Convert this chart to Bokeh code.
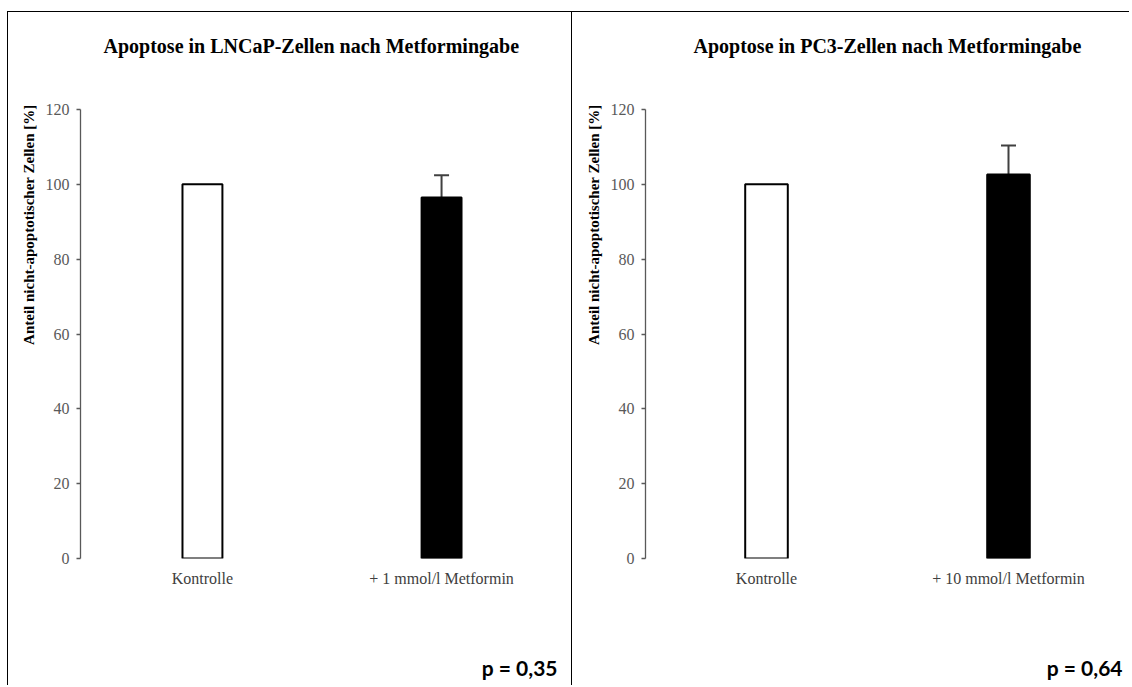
from bokeh.plotting import figure
from bokeh.models import (FixedTicker, Whisker, TeeHead, ColumnDataSource, Title)
from bokeh.layouts import row
from bokeh.embed import file_html
from bokeh.resources import INLINE

# ---------------- data ----------------
titles = ["Apoptose in LNCaP-Zellen nach Metformingabe",
          "Apoptose in PC3-Zellen nach Metformingabe"]
y_label = "Anteil nicht-apoptotischer Zellen [%]"

cats_lncap = ["Kontrolle", "+ 1 mmol/l Metformin"]
vals_lncap = [100.0, 96.5]
err_lncap = [0.0, 5.9]

cats_pc3 = ["Kontrolle", "+ 10 mmol/l Metformin"]
vals_pc3 = [100.0, 102.6]
err_pc3 = [0.0, 7.8]

bar_colors = ["white", "black"]
p_values = ["p = 0,35", "p = 0,64"]
y_ticks = [0, 20, 40, 60, 80, 100, 120]
y_max = 120

SERIF = "Liberation Serif"


def spacer(gap):
    # blank title used only to reserve vertical space in a side panel
    return Title(text=" ", text_font_size="1px", standoff=gap)


def make_panel(cats, vals, errs, title, pval, width, height, mb_left, mb_right,
               mb_top, mb_bottom, bar_w, title_offset, top_gap, range_pad,
               p_offset, bottom_gap, styles):
    p = figure(x_range=cats, y_range=(0, y_max), width=width, height=height,
               output_backend="svg", toolbar_location=None,
               min_border_left=mb_left, min_border_right=mb_right,
               min_border_top=mb_top, min_border_bottom=mb_bottom)
    p.x_range.range_padding = range_pad
    p.styles = styles
    p.outline_line_color = None
    p.xgrid.grid_line_color = None
    p.ygrid.grid_line_color = None
    p.background_fill_color = "white"
    p.border_fill_color = "white"

    src = ColumnDataSource(dict(cat=cats, val=vals, color=bar_colors))
    p.vbar(x="cat", top="val", width=bar_w, source=src, fill_color="color",
           line_color="black", line_width=2)

    wcats = [c for c, e in zip(cats, errs) if e > 0]
    wlow = [v for v, e in zip(vals, errs) if e > 0]
    wup = [v + e for v, e in zip(vals, errs) if e > 0]
    wsrc = ColumnDataSource(dict(base=wcats, lower=wlow, upper=wup))
    w = Whisker(base="base", lower="lower", upper="upper", source=wsrc,
                dimension="height", line_color="#404040", line_width=2,
                lower_head=None,
                upper_head=TeeHead(size=15, line_color="#404040", line_width=2))
    p.add_layout(w)

    # chart title (spacer keeps it away from the plot area)
    p.add_layout(spacer(top_gap), "above")
    t = Title(text=title, align="left", offset=title_offset, standoff=0,
              text_font=SERIF, text_font_size="20px", text_font_style="bold",
              text_color="black")
    p.add_layout(t, "above")

    ya = p.yaxis[0]
    ya.ticker = FixedTicker(ticks=y_ticks)
    ya.major_label_text_font = SERIF
    ya.major_label_text_font_size = "16px"
    ya.major_label_text_color = "#595959"
    ya.major_label_standoff = 7
    ya.axis_line_color = "#595959"
    ya.axis_line_width = 1.3
    ya.major_tick_line_color = "#595959"
    ya.major_tick_line_width = 1.3
    ya.major_tick_out = 4
    ya.major_tick_in = 0
    ya.minor_tick_line_color = None

    # y axis title, aligned to the top end of the axis
    yt = Title(text=y_label, align="right", offset=-5, standoff=11,
               text_font=SERIF, text_font_size="15px", text_font_style="bold",
               text_color="black")
    p.add_layout(yt, "left")

    xa = p.xaxis[0]
    xa.axis_line_color = None
    xa.major_tick_line_color = None
    xa.major_tick_out = 0
    xa.major_tick_in = 0
    xa.major_label_standoff = 11
    xa.major_label_text_font = SERIF
    xa.major_label_text_font_size = "16px"
    xa.major_label_text_color = "#404040"

    # p-value in the lower right corner
    p.add_layout(spacer(bottom_gap), "below")
    pt = Title(text=pval, align="right", offset=p_offset, standoff=0,
               text_font="Lato", text_font_size="21px", text_font_style="bold",
               text_color="black")
    p.add_layout(pt, "below")
    return p


p1 = make_panel(cats_lncap, vals_lncap, err_lncap, titles[0], p_values[0],
                width=565, height=674, mb_left=72, mb_right=10, mb_top=97,
                mb_bottom=128, bar_w=0.167, title_offset=23, top_gap=50,
                range_pad=0.01, p_offset=6, bottom_gap=60,
                styles={"border-left": "1px solid black",
                        "border-top": "1px solid black",
                        "border-right": "1px solid black"})
p2 = make_panel(cats_pc3, vals_pc3, err_pc3, titles[1], p_values[1],
                width=557, height=674, mb_left=73, mb_right=0, mb_top=97,
                mb_bottom=128, bar_w=0.176, title_offset=48, top_gap=50,
                range_pad=0.0, p_offset=7, bottom_gap=60,
                styles={"border-top": "1px solid black"})

layout = row(p1, p2, styles={"margin-left": "7px", "margin-top": "11px"})

open("out.html", "w").write(file_html(layout, INLINE))
